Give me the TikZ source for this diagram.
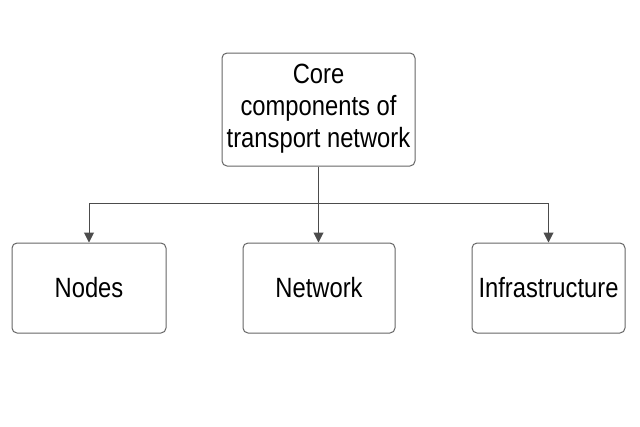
\documentclass[tikz,border=0pt]{standalone}
\usepackage{fontspec}
\setmainfont{Liberation Sans}
\usetikzlibrary{arrows.meta}
\newcommand{\tallt}[1]{\scalebox{0.99}[1.16]{\begin{tabular}{@{}c@{}}#1\end{tabular}}}
\newcommand{\lowt}[1]{\raisebox{-3pt}[\height][\depth]{\tallt{#1}}}
\begin{document}
\begin{tikzpicture}[x=1pt,y=-1pt,
  box/.style={draw=black!60, line width=1pt, rounded corners=5pt, fill=white,
    inner sep=0pt, align=center, font=\fontsize{24}{27.6}\selectfont},
  conn/.style={draw=black!70, line width=1pt},
  arr/.style={conn, -{Triangle[width=10pt,length=10pt]}}]
\useasboundingbox (0,0) rectangle (640,426);
\node[box, minimum width=193pt, minimum height=113pt] (top) at (318.5,109.5)
  {\tallt{Core\\components of\\transport network}};
\node[box, minimum width=154pt, minimum height=90pt] (nodes) at (89,288) {\lowt{Nodes}};
\node[box, minimum width=152pt, minimum height=90pt] (network) at (319,288) {\lowt{Network}};
\node[box, minimum width=153pt, minimum height=90pt] (infra) at (548.5,288) {\lowt{Infrastructure}};
\coordinate (j) at (318.5,203);
\draw[conn] (top.south) -- (j);
\draw[arr] (j) -| (nodes.north);
\draw[arr] (j) -| (infra.north);
\draw[arr] (j) -- (j |- network.north);
\end{tikzpicture}
\end{document}
